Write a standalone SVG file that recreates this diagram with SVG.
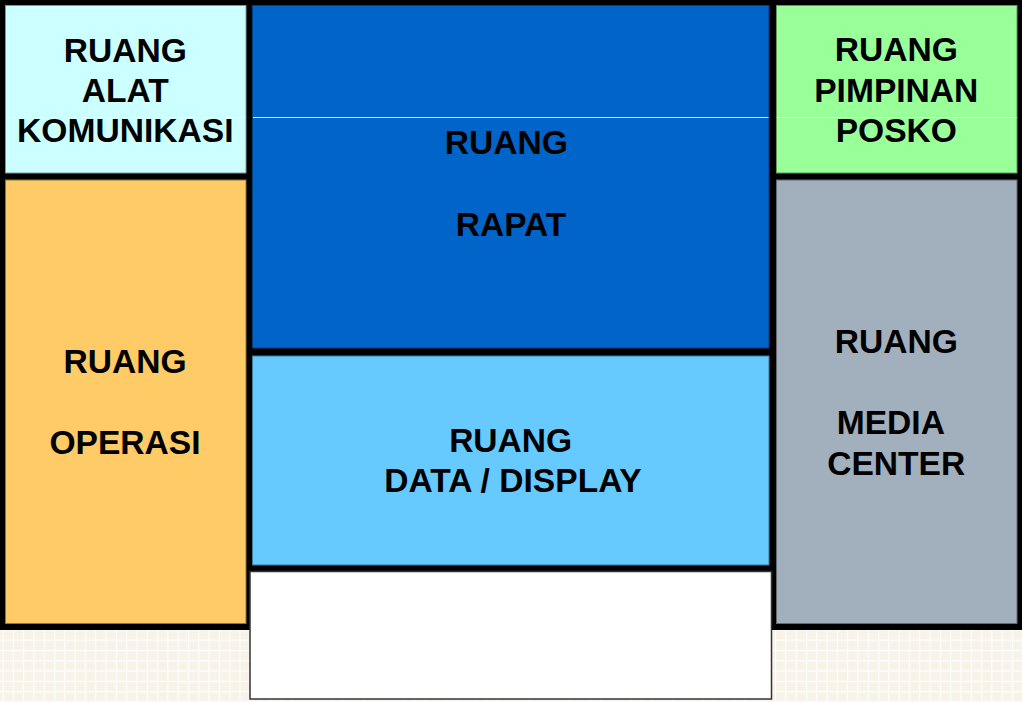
<svg xmlns="http://www.w3.org/2000/svg" width="1022" height="702" viewBox="0 0 1022 702">
<defs>
<pattern id="grid" x="2.5" y="1" width="10.3" height="10.3" patternUnits="userSpaceOnUse">
<rect width="10.3" height="10.3" fill="#f8f3e9"/>
<path d="M0 0.5H10.3M0.5 0V10.3" stroke="#ffffff" stroke-width="1.2" fill="none"/>
</pattern>
</defs>
<style>
.room{stroke-width:1}
.lbl{font-family:"Liberation Sans",Arial,sans-serif;font-weight:bold;font-size:33.6px;fill:#000;text-anchor:middle}
.hl{stroke:#ffffff;stroke-width:1;stroke-opacity:0.85}
</style>
<rect x="0" y="0" width="1022" height="702" fill="url(#grid)"/>
<rect x="0" y="0" width="1022" height="630" fill="#000"/>
<g id="ruang-alat-komunikasi">
<rect class="room" x="5.5" y="5.5" width="240.5" height="167.5" fill="#ccffff" stroke="#7a9999"/>
<text class="lbl" x="125.3" y="61.5">RUANG</text>
<text class="lbl" x="125.3" y="101.7">ALAT</text>
<text class="lbl" x="125.3" y="141.7">KOMUNIKASI</text>
</g>
<g id="ruang-operasi">
<rect class="room" x="5.5" y="180" width="240.5" height="443.5" fill="#fecb66" stroke="#8f7440"/>
<text class="lbl" x="125" y="372.7">RUANG</text>
<text class="lbl" x="125" y="454">OPERASI</text>
</g>
<g id="ruang-rapat">
<rect class="room" x="252.5" y="5.5" width="516.5" height="342.5" fill="#0064c8" stroke="#003f80"/>
<text class="lbl" x="506.3" y="154.3">RUANG</text>
<text class="lbl" x="511" y="235.7">RAPAT</text>
</g>
<g id="ruang-data-display">
<rect class="room" x="252.5" y="356" width="516.5" height="209" fill="#66caff" stroke="#3a7aa0"/>
<text class="lbl" x="510.7" y="451.7">RUANG</text>
<text class="lbl" x="513" y="492.3">DATA / DISPLAY</text>
</g>
<g id="ruang-kosong">
<rect x="250" y="571.5" width="521.5" height="127.5" fill="#ffffff" stroke="#333" stroke-width="1.5"/>
</g>
<g id="ruang-pimpinan-posko">
<rect class="room" x="776.5" y="5.5" width="240.5" height="167.5" fill="#99ff99" stroke="#5c995c"/>
<text class="lbl" x="896.3" y="61">RUANG</text>
<text class="lbl" x="896.3" y="101.7">PIMPINAN</text>
<text class="lbl" x="896.3" y="141.7">POSKO</text>
</g>
<g id="ruang-media-center">
<rect class="room" x="776.5" y="180" width="240.5" height="443.5" fill="#a2afbd" stroke="#626a72"/>
<text class="lbl" x="896.3" y="352.7">RUANG</text>
<text class="lbl" x="890.8" y="434.3">MEDIA</text>
<text class="lbl" x="896.2" y="475">CENTER</text>
</g>
<g id="connectors">
<line class="hl" x1="6" y1="117.5" x2="245.5" y2="117.5"/>
<line class="hl" x1="253" y1="117.5" x2="768.5" y2="117.5"/>
<line class="hl" x1="777" y1="117.5" x2="1016.5" y2="117.5"/>
</g>
</svg>
